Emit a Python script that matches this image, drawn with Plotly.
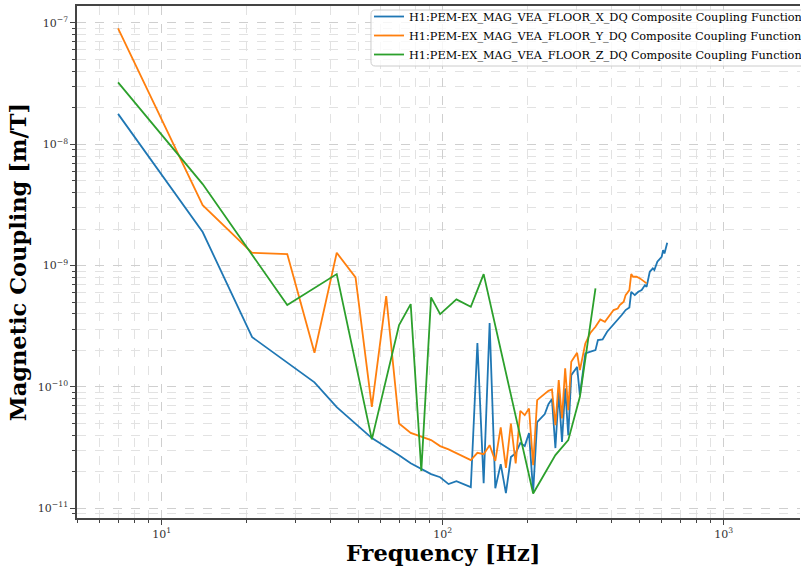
import math
import plotly.graph_objects as go

# Composite magnetic coupling functions of the three VEA floor magnetometer axes
freq_x = [7, 14, 21, 35, 42, 56, 70, 77, 91, 98, 105, 112, 126, 133, 140, 147, 154,
          161, 168, 175, 182, 189, 196, 203, 210, 217, 231, 238, 245, 252, 259, 266,
          273, 280, 287, 301, 308, 322, 336, 350, 357, 371, 385, 399, 427, 434, 448,
          462, 469, 483, 497, 511, 525, 532, 546, 560, 567, 581, 602, 609, 616, 630]
coup_x = [1.78e-8, 1.89e-9, 2.57e-10, 1.09e-10, 6.8e-11, 3.78e-11, 2.73e-11, 2.35e-11,
          1.91e-11, 1.80e-11, 1.58e-11, 1.67e-11, 1.49e-11, 2.30e-10, 1.61e-11, 3.36e-10,
          1.46e-11, 2.31e-11, 1.33e-11, 2.64e-11, 2.84e-11, 3.44e-11, 3.25e-11, 4.16e-11,
          1.36e-11, 5.12e-11, 5.96e-11, 7.21e-11, 7.93e-11, 3.13e-11, 9.1e-11, 3.52e-11,
          9.71e-11, 4.0e-11, 1.25e-10, 1.46e-10, 8.55e-11, 1.89e-10, 1.95e-10, 2.01e-10,
          2.43e-10, 2.46e-10, 2.85e-10, 3.13e-10, 3.67e-10, 3.91e-10, 4.30e-10, 4.52e-10,
          6.08e-10, 5.71e-10, 6.08e-10, 6.28e-10, 6.90e-10, 6.68e-10, 8.89e-10, 9.48e-10,
          9.18e-10, 1.075e-9, 1.18e-9, 1.34e-9, 1.26e-9, 1.54e-9]

freq_y = [7, 14, 21, 28, 35, 42, 49, 56, 63, 70, 77, 91, 98, 105, 126, 133, 140, 147,
          154, 161, 168, 175, 182, 189, 196, 203, 210, 217, 224, 238, 245, 252, 259, 266,
          273, 280, 287, 301, 308, 322, 336, 350, 364, 378, 406, 420, 427, 441, 448, 462,
          469, 476, 490, 504, 532]
coup_y = [9.04e-8, 3.15e-9, 1.275e-9, 1.245e-9, 1.91e-10, 1.275e-9, 7.99e-10, 6.85e-11,
          5.6e-10, 4.99e-11, 4.18e-11, 3.64e-11, 3.25e-11, 3.05e-11, 2.49e-11, 2.86e-11,
          2.79e-11, 3.31e-11, 2.45e-11, 4.63e-11, 2.15e-11, 4.99e-11, 2.34e-11, 6.34e-11,
          5.85e-11, 6.64e-11, 2.26e-11, 7.78e-11, 8.28e-11, 9.28e-11, 9.53e-11, 4.83e-11,
          1.137e-10, 5.5e-11, 1.42e-10, 6.43e-11, 1.61e-10, 1.91e-10, 1.375e-10, 2.28e-10,
          2.8e-10, 3.13e-10, 3.6e-10, 3.44e-10, 4.3e-10, 4.43e-10, 4.72e-10, 5.03e-10,
          5.71e-10, 6.28e-10, 8.51e-10, 8.09e-10, 8.09e-10, 7.84e-10, 7.13e-10]

freq_z = [7, 14, 28, 42, 56, 70, 77, 84, 91, 98, 112, 126, 140, 210, 252, 280, 308, 350]
coup_z = [3.24e-8, 4.7e-9, 4.72e-10, 8.51e-10, 3.69e-11, 3.23e-10, 4.81e-10, 2.03e-11,
          5.47e-10, 3.98e-10, 5.26e-10, 4.57e-10, 8.51e-10, 1.32e-11, 2.74e-11, 3.64e-11,
          8.28e-11, 6.49e-10]

series_names = [
    "H1:PEM-EX_MAG_VEA_FLOOR_X_DQ Composite Coupling Function",
    "H1:PEM-EX_MAG_VEA_FLOOR_Y_DQ Composite Coupling Function",
    "H1:PEM-EX_MAG_VEA_FLOOR_Z_DQ Composite Coupling Function",
]
colors = ["#1f77b4", "#ff7f0e", "#2ca02c"]

x_range = [5, 1870]
y_range = [8.3e-12, 1.38e-7]
x_decades = [1, 2, 3]
y_decades = [-11, -10, -9, -8, -7]

SERIF = "DejaVu Serif"


def sup_label(e):
    txt = str(e).replace("-", "\u2212")
    return f"10<sup>{txt}</sup>"


def minor_vals(lo, hi):
    return [m * 10 ** e for e in range(lo, hi + 1) for m in range(2, 10)]


fig = go.Figure()
for f, c, name, col in zip([freq_x, freq_y, freq_z], [coup_x, coup_y, coup_z],
                           series_names, colors):
    fig.add_trace(go.Scatter(x=f, y=c, mode="lines", name=name,
                             line=dict(color=col, width=1.8)))

axis_common = dict(
    type="log",
    showline=True, linecolor="#444", linewidth=1.5,
    ticks="outside", ticklen=5, tickwidth=1, tickcolor="#444",
    tickfont=dict(family=SERIF, size=11, color="#333"),
    tickmode="array",
    showgrid=True, gridcolor="#cfcfcf", griddash="dash", gridwidth=1,
    zeroline=False,
)
minor_common = dict(ticks="outside", ticklen=3, tickcolor="#444",
                    showgrid=True, gridcolor="#e2e2e2", griddash="dash")

fig.update_layout(
    width=801, height=571,
    margin=dict(l=77, r=1, t=6, b=53, autoexpand=False),
    paper_bgcolor="white", plot_bgcolor="white",
    font=dict(family=SERIF, color="#000"),
    xaxis=dict(axis_common, mirror=True,
               range=[math.log10(x_range[0]), math.log10(x_range[1])],
               tickvals=[10 ** e for e in x_decades],
               ticktext=[sup_label(e) for e in x_decades],
               minor=dict(minor_common, tickmode="array", tickvals=minor_vals(0, 3))),
    yaxis=dict(axis_common, mirror=False,
               range=[math.log10(y_range[0]), math.log10(y_range[1])],
               tickvals=[10.0 ** e for e in y_decades],
               ticktext=[sup_label(e) for e in y_decades],
               minor=dict(minor_common, tickmode="array", tickvals=minor_vals(-12, -7)),
               title=dict(text="Magnetic Coupling [m/T]", standoff=5,
                          font=dict(family=SERIF, size=22.5, weight="bold"))),
    legend=dict(x=1.0097, y=1.0078, xanchor="right", yanchor="top",
                bgcolor="rgba(0,0,0,0)", borderwidth=0,
                font=dict(family=SERIF, size=11.3), tracegroupgap=0,
                itemwidth=30),
    showlegend=True,
)

# Frequency axis label, centred under the full frequency span
fig.add_annotation(text="<b>Frequency [Hz]</b>", xref="paper", yref="paper",
                   x=0.5062, y=-0.0684, xanchor="center", yanchor="middle",
                   showarrow=False, font=dict(family=SERIF, size=22.5, color="#000"))

# Rounded, semi-opaque frame behind the legend entries
x0, x1, y0, y1, r = 0.4066, 1.02, 0.8828, 0.9922, 0.006
ry = r * 723 / 512
legend_frame = (f"M {x0 + r},{y1} L {x1 - r},{y1} Q {x1},{y1} {x1},{y1 - ry} "
                f"L {x1},{y0 + ry} Q {x1},{y0} {x1 - r},{y0} L {x0 + r},{y0} "
                f"Q {x0},{y0} {x0},{y0 + ry} L {x0},{y1 - ry} Q {x0},{y1} {x0 + r},{y1} Z")
fig.add_shape(type="path", path=legend_frame, xref="paper", yref="paper",
              fillcolor="rgba(255,255,255,0.8)", line=dict(color="#cccccc", width=1),
              layer="above")

fig.write_html("out.html")
